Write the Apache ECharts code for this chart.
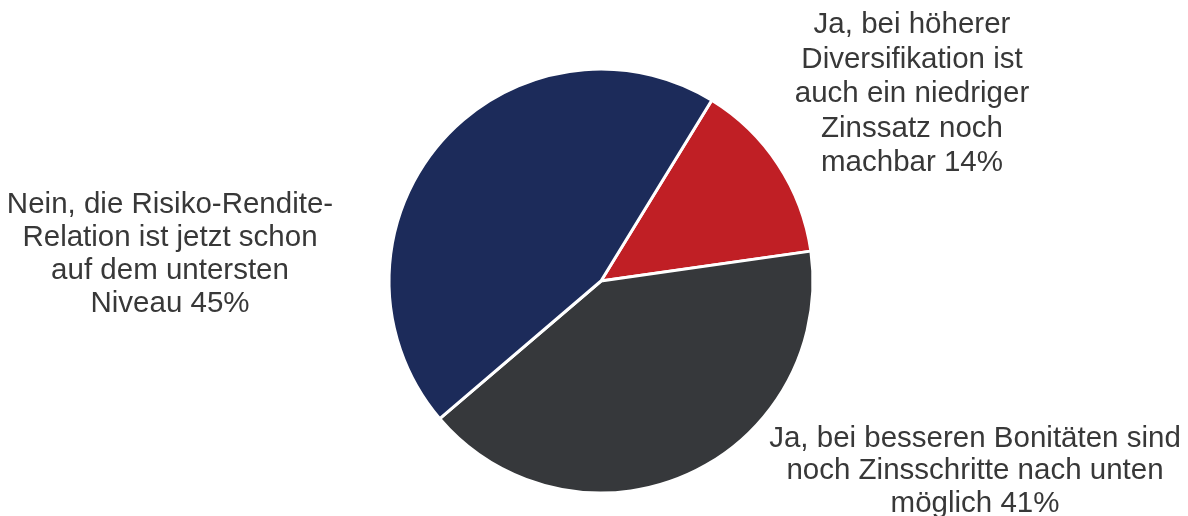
<!DOCTYPE html>
<html>
<head>
<meta charset="utf-8">
<script src="https://cdn.jsdelivr.net/npm/echarts@6/dist/echarts.min.js"></script>
<style>
html,body{margin:0;padding:0;background:#fff;}
#chart{width:1188px;height:516px;}
</style>
</head>
<body>
<div id="chart"></div>
<script>
const categories = [
  "Ja, bei höherer\nDiversifikation ist\nauch ein niedriger\nZinssatz noch\nmachbar",
  "Ja, bei besseren Bonitäten sind\nnoch Zinsschritte nach unten\nmöglich",
  "Nein, die Risiko-Rendite-\nRelation ist jetzt schon\nauf dem untersten\nNiveau"
];
const values = [14, 41, 45];
const colors = ["#c01f25", "#36383b", "#1c2b5a"];
const labelCenters = [[912, 94], [975, 471], [170, 254]];
const labelLineHeights = [34.5, 32.5, 33];

const chart = echarts.init(document.getElementById('chart'));
chart.setOption({
  backgroundColor: '#ffffff',
  animation: false,
  series: [{
    type: 'pie',
    center: [601, 281],
    radius: 212,
    startAngle: 58.5,
    clockwise: true,
    data: categories.map((c, i) => ({
      name: c, value: values[i],
      itemStyle: { color: colors[i] },
      label: { lineHeight: labelLineHeights[i] }
    })),
    itemStyle: { borderColor: '#ffffff', borderWidth: 3 },
    label: {
      show: true,
      position: 'outside',
      formatter: p => p.name + ' ' + p.value + '%',
      fontFamily: 'Liberation Sans, Arial, sans-serif',
      fontSize: 29.5,
      color: '#383838',
      align: 'center'
    },
    labelLine: { show: false },
    labelLayout: p => ({
      x: labelCenters[p.dataIndex][0],
      y: labelCenters[p.dataIndex][1],
      align: 'center',
      verticalAlign: 'middle'
    }),
    emphasis: { disabled: true }
  }]
});
</script>
</body>
</html>
